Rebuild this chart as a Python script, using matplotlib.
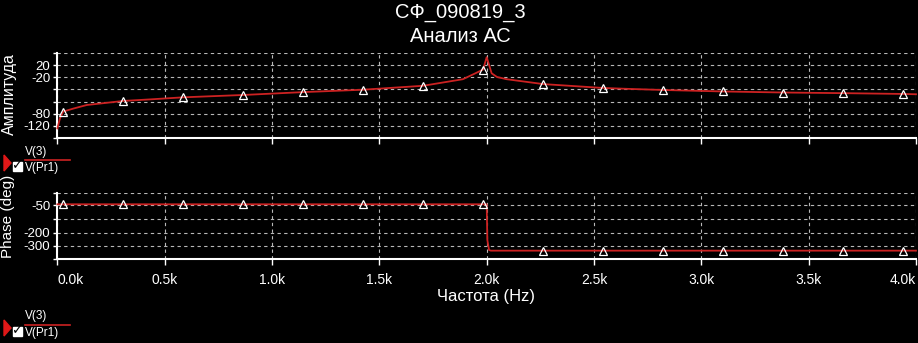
import numpy as np
import matplotlib
matplotlib.use("Agg")
import matplotlib.pyplot as plt
from matplotlib.patches import Rectangle, Polygon
from matplotlib.lines import Line2D
from matplotlib.ticker import FixedLocator, FixedFormatter

plt.rcParams['font.family'] = ['Liberation Sans', 'DejaVu Sans']

# ---------------- data ----------------
title_lines = ["СФ_090819_3", "Анализ АС"]
x_label = "Частота (Hz)"
amp_label = "Амплитуда"
phase_label = "Phase (deg)"
legend_names = ["V(3)", "V(Pr1)"]

x_ticks = [0, 500, 1000, 1500, 2000, 2500, 3000, 3500, 4000]
x_tick_labels = ["0.0k", "0.5k", "1.0k", "1.5k", "2.0k", "2.5k", "3.0k", "3.5k", "4.0k"]

marker_freq = [27, 306, 586, 865, 1145, 1424, 1704, 1983, 2263, 2542, 2822, 3101, 3381, 3660, 3940]

amp_freq = [0, 12, 27, 74, 137, 198, 306, 431, 586, 865, 1145, 1424, 1704, 1889, 1950,
            1983, 2000, 2023, 2048, 2093, 2263, 2542, 2668, 2822, 3101, 3381, 3660, 3940, 4000]
amp_db = [-128, -94, -76, -71, -65, -62.6, -58.4, -56, -52.8, -49.2, -44.8, -41.1, -34.6, -23.7, -6.7,
          5, 46, -7.7, -20, -23.7, -31.8, -38.3, -39.9, -41.5, -43.8, -45.4, -46.4, -47.6, -48.1]

phase_freq = [0, 27, 306, 586, 865, 1145, 1424, 1704, 1983, 2000, 2003, 2011, 2019,
              2263, 2542, 2822, 3101, 3381, 3660, 3940, 4000]
phase_deg = [-46, -46, -46, -46, -46, -46, -46, -46, -46, -46, -255, -330, -335,
             -335, -335, -335, -335, -335, -335, -335, -335]

# axis labelling (the simulator's grid is not uniformly labelled)
amp_grid = [-160, -120, -80, -60, -40, -20, 20, 60]
amp_grid_pos = [0, 12, 24, 36, 49, 61, 73, 85]
amp_tick_text = ["", "-120", "-80", "", "", "-20", "20", ""]

phase_grid = [-400, -300, -200, -125, -50, 15]
phase_grid_pos = [0, 13.3, 26.6, 40, 54.3, 66]
phase_tick_text = ["", "-300", "-200", "", "-50", ""]

# ---------------- figure ----------------
W, H = 918, 343
fig = plt.figure(figsize=(W / 100, H / 100), dpi=100, facecolor='black')

def fx(x):
    return x / W

def fy(y):
    return 1 - y / H

LINE = '#cc2222'
GRID = '#b8b8b8'

def make_axes(top, bottom):
    ax = fig.add_axes([fx(57.4), fy(bottom), fx(916) - fx(57.4), fy(top) - fy(bottom)])
    ax.set_facecolor('black')
    for s in ['top', 'right']:
        ax.spines[s].set_visible(False)
    for s in ['left', 'bottom']:
        ax.spines[s].set_color('white')
        ax.spines[s].set_linewidth(1.5)
    ax.set_xlim(0, 4000)
    ax.xaxis.set_major_locator(FixedLocator(x_ticks))
    ax.grid(True, color=GRID, linestyle=(0, (3, 3)), linewidth=0.8)
    ax.tick_params(colors='white', length=4, width=1)
    ax.set_axisbelow(True)
    return ax

def scale_funcs(vals, pos):
    vals = np.asarray(vals, float)
    pos = np.asarray(pos, float)
    def fwd(v):
        return np.interp(v, vals, pos)
    def inv(p):
        return np.interp(p, pos, vals)
    return fwd, inv

# amplitude axes
ax1 = make_axes(53, 138)
ax1.set_yscale('function', functions=scale_funcs(amp_grid, amp_grid_pos))
ax1.set_ylim(amp_grid[0], amp_grid[-1])
ax1.yaxis.set_major_locator(FixedLocator(amp_grid))
ax1.yaxis.set_major_formatter(FixedFormatter(amp_tick_text))
ax1.xaxis.set_major_formatter(FixedFormatter([""] * len(x_ticks)))
ax1.tick_params(axis='y', labelsize=9.5, pad=2, length=3)
mk1 = [i for i, f in enumerate(amp_freq) if f in marker_freq]
ax1.plot(amp_freq, amp_db, color=LINE, lw=1.3, marker='^', markevery=mk1, ms=5.8,
         mfc='none', mec='white', mew=0.9, clip_on=False, zorder=3)

# phase axes
ax2 = make_axes(193.3, 259.3)
ax2.set_yscale('function', functions=scale_funcs(phase_grid, phase_grid_pos))
ax2.set_ylim(phase_grid[0], phase_grid[-1])
ax2.yaxis.set_major_locator(FixedLocator(phase_grid))
ax2.yaxis.set_major_formatter(FixedFormatter(phase_tick_text))
ax2.xaxis.set_major_formatter(FixedFormatter(x_tick_labels))
ax2.tick_params(axis='y', labelsize=9.5, pad=2, length=3)
ax2.tick_params(axis='x', labelsize=10, pad=6)
labs = ax2.get_xticklabels()
labs[0].set_horizontalalignment('left')
labs[-1].set_horizontalalignment('right')
mk2 = [i for i, f in enumerate(phase_freq) if f in marker_freq]
ax2.plot(phase_freq, phase_deg, color=LINE, lw=1.3, marker='^', markevery=mk2, ms=5.8,
         mfc='none', mec='white', mew=0.9, clip_on=False, zorder=3)

# titles and axis labels
fig.text(fx(460), fy(12), title_lines[0], color='white', fontsize=14.5, ha='center', va='center')
fig.text(fx(460), fy(36), title_lines[1], color='white', fontsize=14.5, ha='center', va='center')
fig.text(fx(486), fy(297), x_label, color='white', fontsize=12, ha='center', va='center')
fig.text(fx(9), fy(94), amp_label, color='white', fontsize=11.5, ha='center', va='center', rotation=90)
fig.text(fx(8.5), fy(216.5), phase_label, color='white', fontsize=11, ha='center', va='center', rotation=90)

# legends
def legend(y0):
    # y0 = top of "V(3)" text
    fig.patches.append(Polygon([[fx(4), fy(y0 + 9)], [fx(11), fy(y0 + 17)], [fx(4), fy(y0 + 25)]],
                               closed=True, color='#e01818', transform=fig.transFigure, figure=fig))
    fig.lines.append(Line2D([fx(25), fx(70)], [fy(y0 + 14), fy(y0 + 14)], color=LINE, lw=1.2,
                            transform=fig.transFigure, figure=fig))
    fig.patches.append(Rectangle((fx(12.5), fy(y0 + 24.5)), fx(9), fy(0) - fy(9), color='white',
                                 transform=fig.transFigure, figure=fig))
    fig.text(fx(17), fy(y0 + 20), "✓", color='black', fontsize=9.5, ha='center', va='center',
             family=['DejaVu Sans'], fontweight='bold')
    fig.text(fx(25), fy(y0 + 5.5), legend_names[0], color='white', fontsize=8.5, ha='left', va='center')
    fig.text(fx(25), fy(y0 + 22), legend_names[1], color='white', fontsize=8.5, ha='left', va='center')

legend(146)
legend(311)

fig.savefig("out.png", dpi=100, facecolor='black')
